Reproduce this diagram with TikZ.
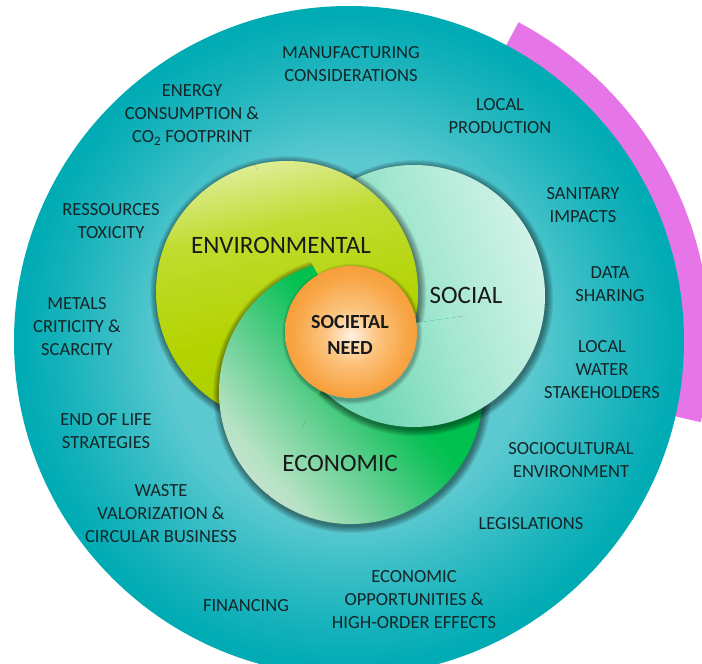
\documentclass[tikz,border=0pt]{standalone}
\usepackage{fontspec}
\setmainfont{Carlito}
\definecolor{magentac}{HTML}{E675E8}
\definecolor{tealL}{HTML}{5CC9D0}
\definecolor{tealD}{HTML}{00ABB4}
\definecolor{envA}{HTML}{A5CA00}
\definecolor{envB}{HTML}{B3D300}
\definecolor{envC}{HTML}{C0DC30}
\definecolor{envD}{HTML}{DCEC90}
\definecolor{envE}{HTML}{F5FAD8}
\definecolor{socA}{HTML}{72D8B6}
\definecolor{socB}{HTML}{A3E7D0}
\definecolor{socC}{HTML}{E6F8F2}
\definecolor{ecoA}{HTML}{E8E8E8}
\definecolor{ecoB}{HTML}{B4E2C3}
\definecolor{ecoC}{HTML}{58CD8A}
\definecolor{ecoD}{HTML}{10C25A}
\definecolor{ecoE}{HTML}{00C04F}
\definecolor{orA}{HTML}{FFF1E0}
\definecolor{orB}{HTML}{FCC47F}
\definecolor{orC}{HTML}{F8A443}
\definecolor{orD}{HTML}{F0902A}
\definecolor{txtc}{HTML}{142628}
\pgfdeclareradialshading{orangesh}{\pgfpoint{0bp}{-1.5bp}}{color(0bp)=(orA); color(10bp)=(orB); color(22bp)=(orC); color(35.4bp)=(orD); color(50bp)=(orD)}
\pgfdeclareverticalshading{envsh}{100bp}{color(0bp)=(envA); color(14.6bp)=(envA); color(42.9bp)=(envB); color(62.7bp)=(envC); color(74.7bp)=(envD); color(85.4bp)=(envE); color(100bp)=(envE)}
\pgfdeclarehorizontalshading{socsh}{100bp}{color(0bp)=(socA); color(35.8bp)=(socA); color(53.5bp)=(socB); color(85.4bp)=(socC); color(100bp)=(socC)}
\pgfdeclarehorizontalshading{ecosh}{100bp}{color(0bp)=(ecoA); color(14.6bp)=(ecoA); color(28.7bp)=(ecoB); color(42.9bp)=(ecoC); color(53.5bp)=(ecoD); color(57bp)=(ecoE); color(100bp)=(ecoE)}
% blurred drop shadow drawn as rings (interior left untouched)
\newcommand\shadowcirc[4]{\foreach \i in {1,...,#4}{\fill[black,opacity=0.075,even odd rule] ({#1+1.2},{#2-2}) circle ({#3+\i}) ({#1+1.2},{#2-2}) circle ({#3-3});}}
\newcommand\fillenv{\shade[shading=envsh, shading angle=12] (287,-292) circle (131);}
\newcommand\fillsoc{\shade[shading=socsh, shading angle=20] (414,-296) circle (131);}
\newcommand\filleco{\shade[shading=ecosh, shading angle=40] (351,-392) circle (132);}
\newcommand\drawenv{\shadowcirc{287}{-292}{131}{7}\fillenv}
\newcommand\drawsoc{\shadowcirc{414}{-296}{131}{7}\fillsoc}
\newcommand\draweco{\shadowcirc{351}{-392}{132}{7}\filleco}
\newcommand\wedgeclip[2]{\clip (351,-332) -- ++(#1:900pt) arc[start angle=#1, end angle=#2, radius=900pt] -- cycle;}
\tikzset{
  outer/.style={align=center, font=\fontsize{18.5}{23}\selectfont, text=txtc, inner sep=0pt},
  innerlab/.style={font=\fontsize{25}{30}\selectfont, text=black!90, inner sep=0pt},
  needlab/.style={align=center, font=\bfseries\fontsize{20}{26}\selectfont, text=black!90, inner sep=0pt}
}
\begin{document}
\begin{tikzpicture}[x=1pt,y=1pt]
\useasboundingbox (0,0) rectangle (702,-664);
% magenta band
\begin{scope}[shift={(349,-341)}]
\fill[magentac] (62:361pt) arc[start angle=62,end angle=-13,radius=361pt] -- (-13:330pt) arc[start angle=-13,end angle=62,radius=330pt] -- cycle;
\end{scope}
% teal disc with radial gradient (concentric rings)
\foreach \k in {0,...,52}{
  \pgfmathsetmacro\rr{335-3*\k}
  \pgfmathsetmacro\mm{min(100,100*(max(1-\rr/335,0.001)/0.45)^1.2)}
  \fill[tealL!\mm!tealD] (349,-341) circle (\rr);
}
% base fills (under the swirl wedges)
\fillenv \filleco \fillsoc
% swirl: each wedge around the centre has its own stacking order
\begin{scope}\wedgeclip{8}{120}
  \draweco \drawsoc \drawenv
\end{scope}
\begin{scope}\wedgeclip{120}{243}
  \drawsoc \drawenv \draweco
\end{scope}
\begin{scope}\wedgeclip{243}{368}
  \drawenv \draweco \drawsoc
\end{scope}
% societal need
\shadowcirc{351}{-332}{66}{4}
\shade[shading=orangesh] (351,-332) circle (66);
% inner labels
\node[innerlab] (env) at (281,-245) {ENVIRONMENTAL};
\node[innerlab] (soc) at (466,-295) {SOCIAL};
\node[innerlab] (eco) at (340,-463) {ECONOMIC};
\node[needlab] (need) at (350,-335) {SOCIETAL\\NEED};
% outer labels
\node[outer] (manu) at (351,-64.5) {MANUFACTURING\\CONSIDERATIONS};
\node[outer] (energy) at (192,-115) {ENERGY\\CONSUMPTION \&\\CO\textsubscript{2} FOOTPRINT};
\node[outer] (locprod) at (500,-116.5) {LOCAL\\PRODUCTION};
\node[outer] (ress) at (111,-221) {RESSOURCES\\TOXICITY};
\node[outer] (sanit) at (583,-205.5) {SANITARY\\IMPACTS};
\node[outer] (data) at (610,-284.5) {DATA\\SHARING};
\node[outer] (metals) at (77,-327) {METALS\\CRITICITY \&\\SCARCITY};
\node[outer] (water) at (602,-370) {LOCAL\\WATER\\STAKEHOLDERS};
\node[outer] (eol) at (106,-431) {END OF LIFE\\STRATEGIES};
\node[outer] (socio) at (571,-460.5) {SOCIOCULTURAL\\ENVIRONMENT};
\node[outer] (waste) at (161,-514) {WASTE\\VALORIZATION \&\\CIRCULAR BUSINESS};
\node[outer] (legis) at (531,-524) {LEGISLATIONS};
\node[outer] (fin) at (246,-606) {FINANCING};
\node[outer] (ecoopp) at (414,-600) {ECONOMIC\\OPPORTUNITIES \&\\HIGH-ORDER EFFECTS};
\end{tikzpicture}
\end{document}
